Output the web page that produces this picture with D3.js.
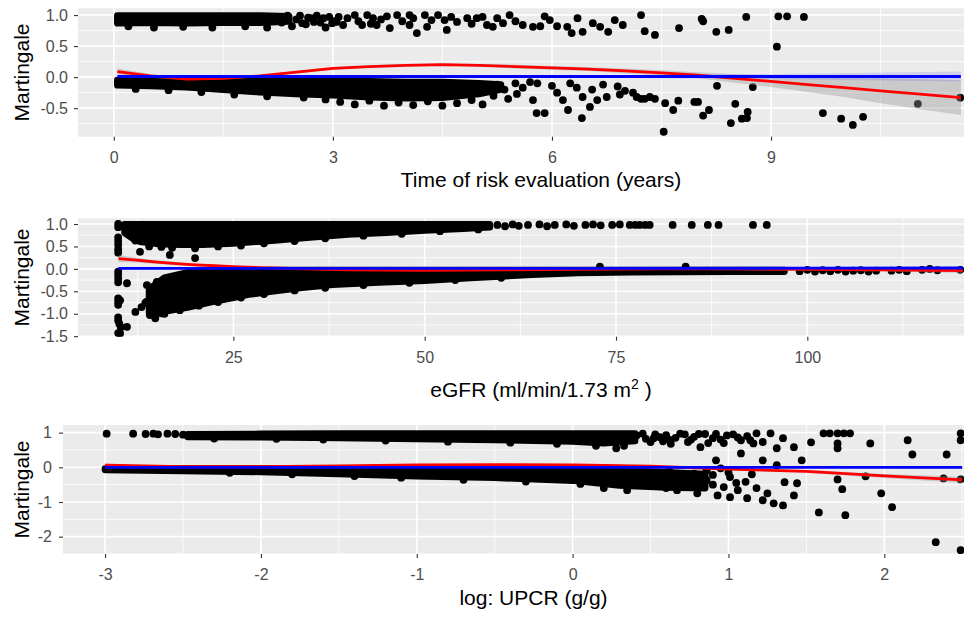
<!DOCTYPE html>
<html>
<head>
<meta charset="utf-8">
<script src="https://cdn.jsdelivr.net/npm/d3@7"></script>
<style>
  body { margin: 0; background: #fff; }
  svg { display: block; font-family: "Liberation Sans", Arial, sans-serif; }
</style>
</head>
<body>
<svg id="chart" width="964" height="617"></svg>
<script>
// ---- Panel 1: time of risk evaluation ----
// dense clouds read as [x, lower, upper] envelopes
const timeEventBand = [[0.05,0.87,0.99],[0.5,0.88,0.99],[1.0,0.87,0.99],[1.5,0.88,0.99],[2.0,0.88,0.99],[2.4,0.9,0.98]];
const timeCensBand = [[0.05,-0.13,-0.05],[0.5,-0.14,-0.05],[1.0,-0.16,-0.05],[1.5,-0.2,-0.05],[2.0,-0.24,-0.05],[2.5,-0.27,-0.06],[3.0,-0.29,-0.06],[3.5,-0.32,-0.07],[4.0,-0.34,-0.08],[4.5,-0.33,-0.08],[5.0,-0.27,-0.1],[5.3,-0.2,-0.12]];
const timeEvents = [[0.2,0.82],[0.55,0.8],[0.95,0.81],[1.35,0.8],[1.8,0.82],[2.1,0.8],
  [2.25,0.96],[2.3,0.88],[2.38,0.99],[2.44,0.82],[2.5,0.93],[2.55,0.99],[2.58,0.87],[2.63,0.85],[2.66,0.96],[2.7,0.95],[2.74,0.89],[2.78,0.99],[2.83,0.88],[2.87,0.95],[2.9,0.8],[2.95,0.97],[2.99,0.87],[3.02,0.9],[3.08,0.97],
  [3.05,0.89],[3.14,0.84],[3.3,1.0],[3.4,0.84],[3.47,1.0],[3.55,0.95],[3.6,0.84],[3.74,0.98],[3.78,0.79],[3.88,1.0],[4.05,1.0],[4.05,0.84],[4.15,0.71],[4.26,1.0],[4.29,0.81],[4.44,1.0],[4.53,0.92],[4.56,0.76],[4.7,0.89],[4.84,0.95],[4.97,0.95],[5.05,0.97],[5.11,0.84],[5.19,0.81],[5.33,0.87],[5.42,1.0],[5.6,0.84],[5.74,0.81],[5.84,0.82],[5.97,0.92],[6.07,0.82],[6.21,0.81],[6.27,0.71],[6.42,0.73],[6.56,0.87],[6.66,0.81],[6.77,0.73],[6.86,0.92],[6.97,0.84],
  [3.2,0.95],[3.35,0.9],[3.52,0.86],[3.66,0.93],[3.95,0.9],[4.1,0.95],[4.35,0.92],[4.62,0.97],[4.9,0.86],[5.25,0.95],[5.5,0.9],[5.9,0.98],[6.35,0.95],
  [7.22,1.0],[7.27,0.74],[7.41,0.68],[7.74,0.79],[8.05,0.94],[8.07,0.9],[8.25,0.73],[8.42,0.76],[8.66,0.97],[9.1,0.98],[9.22,0.98],[9.45,0.97],[9.08,0.49]];
const timeCensored = [[0.3,-0.19],[0.75,-0.21],[1.2,-0.24],[1.65,-0.28],[2.1,-0.31],[2.6,-0.33],[2.9,-0.36],
  [3.1,-0.4],[3.3,-0.44],[3.5,-0.38],[3.7,-0.46],[3.9,-0.41],[4.1,-0.45],[4.3,-0.39],[4.5,-0.46],[4.7,-0.42],[4.9,-0.37],[5.05,-0.44],[5.2,-0.3],[5.25,-0.12],[5.35,-0.2],[5.4,-0.35],[5.5,-0.1],[5.52,-0.27],
  [5.6,-0.17],[5.7,-0.08],[5.74,-0.37],[5.79,-0.58],[5.9,-0.58],[6.07,-0.25],[6.15,-0.37],[6.22,-0.53],[6.34,-0.17],[6.41,-0.66],[6.42,-0.32],[6.52,-0.48],[6.62,-0.37],[6.75,-0.32],[6.93,-0.28],
  [5.8,-0.1],[6.0,-0.14],[6.25,-0.1],[6.55,-0.2],[6.7,-0.12],[6.9,-0.15],[7.0,-0.22],
  [7.11,-0.25],[7.16,-0.32],[7.22,-0.35],[7.27,-0.35],[7.34,-0.32],[7.41,-0.35],[7.53,-0.88],[7.55,-0.42],[7.66,-0.53],[7.73,-0.38],[7.95,-0.4],[8.0,-0.4],[8.07,-0.62],[8.15,-0.53],[8.26,-0.14],[8.45,-0.74],[8.51,-0.43],[8.6,-0.67],[8.67,-0.66],[8.68,-0.56],[8.75,-0.16],
  [9.71,-0.58],[9.96,-0.67],[10.12,-0.77],[10.26,-0.64],[11.01,-0.43],[11.59,-0.33]];
// smooth fits: [x, fit, half width of band]
const timeLoess = [[0.05,0.09,0.05],[0.5,0.02,0.03],[1.0,-0.03,0.02],[1.5,-0.02,0.02],[2.0,0.02,0.02],[2.5,0.08,0.02],[3.0,0.14,0.02],[3.5,0.17,0.02],[4.0,0.19,0.02],[4.5,0.2,0.02],[5.0,0.19,0.02],[5.5,0.17,0.03],[6.0,0.15,0.03],[6.5,0.13,0.03],[7.0,0.1,0.04],[7.5,0.07,0.04],[8.0,0.03,0.05],[8.5,-0.02,0.07],[9.0,-0.07,0.09],[9.5,-0.12,0.12],[10.0,-0.17,0.15],[10.5,-0.22,0.2],[11.0,-0.27,0.24],[11.6,-0.33,0.28]];
const timeLinear = [[0.05,0.01,0.02],[3,0.01,0.012],[6,0.01,0.015],[9,0.01,0.04],[11.6,0.01,0.08]];

// ---- Panel 2: eGFR ----
const egfrEventBand = [[10.8,0.8,0.99],[12,0.66,0.99],[13,0.6,0.99],[15,0.56,0.99],[18,0.54,0.99],[21,0.54,0.99],[25,0.57,0.99],[30,0.63,0.99],[35,0.7,0.99],[40,0.77,0.99],[45,0.81,0.99],[50,0.86,0.99],[55,0.9,0.99],[58.5,0.93,0.99]];
const egfrCensBand = [[14,-1.0,-0.45],[16,-0.95,-0.2],[19,-0.86,-0.08],[22,-0.74,-0.05],[25,-0.64,-0.04],[27,-0.57,-0.04],[30,-0.5,-0.03],[34,-0.42,-0.03],[38,-0.35,-0.03],[44,-0.3,-0.03],[50,-0.26,-0.03],[56,-0.2,-0.03],[64,-0.13,-0.03],[70,-0.09,-0.03],[77,-0.07,-0.03],[90,-0.06,-0.03],[97,-0.06,-0.03]];
const egfrEvents = [[9.95,1.0],[9.95,0.93],[9.95,0.7],[9.95,0.62],[9.95,0.54],[9.95,0.44],[9.95,0.36],
  [10.6,0.95],[11.2,0.9],[11.7,0.82],[12.3,0.72],[12.2,0.63],[12.8,0.38],[16.7,0.31],[20,0.24],[15.6,0.49],
  [14,0.5],[17,0.47],[20,0.46],[23,0.5],[26,0.52],[29,0.57],[33,0.62],[37,0.68],[42,0.74],[47,0.78],[52,0.84],[57,0.88],
  [59.5,0.98],[60.5,0.95],[61.5,0.99],[62.3,0.96],[63.5,0.98],[65,0.99],[66,0.95],[67,0.98],[68.5,0.99],[69.5,0.96],[71,0.98],[72,0.99],[73,0.97],[74.5,0.98],[75.5,0.99],[76.8,0.98],[77.5,0.98],[78.1,0.98],[78.8,0.98],[79.4,0.98],[82.4,0.98],[84.9,0.98],[87.0,0.98],[88.4,0.98],[92.9,0.98],[94.7,0.98]];
const egfrCensored = [[9.95,-0.06],[9.95,-0.13],[9.95,-0.22],[9.95,-0.3],[9.95,-0.66],[9.95,-0.73],[9.95,-0.8],[9.95,-1.08],[9.95,-1.15],[10.1,-1.22],[10.3,-1.3],[9.95,-1.43],
  [10.2,-0.7],[11.1,-1.29],[10.2,-1.44],[12.2,-0.96],[13.0,-0.85],[13.7,-0.73],[14.1,-1.03],[14.8,-1.1],[15.6,-0.99],
  [13.7,-0.36],[11.1,-0.32],[13.5,-0.76],[15,-0.29],[16.7,-0.43],[17.6,-0.73],[18.9,-0.29],
  [16,-1.0],[18,-0.92],[20.5,-0.82],[23,-0.74],[26,-0.64],[29,-0.56],[33,-0.48],[37,-0.42],[42,-0.36],[48,-0.31],[54,-0.25],[60,-0.2],
  [72.9,0.05],[84.1,0.05],
  [99,-0.05],[100,-0.02],[101,-0.06],[102,-0.03],[103,-0.05],[104,-0.02],[105,-0.06],[106,-0.04],[107,-0.03],[108,-0.06],[109,-0.04],
  [111,-0.04],[112,-0.02],[113,-0.05],[115,-0.02],[116,0.0],[117,-0.03],[120,-0.02]];
const egfrLoess = [[10,0.23,0.08],[12,0.2,0.06],[15,0.15,0.04],[18,0.11,0.03],[20,0.09,0.03],[22.5,0.07,0.025],[25,0.05,0.02],[30,0.02,0.02],[40,-0.02,0.02],[50,-0.03,0.02],[60,-0.02,0.02],[70,-0.01,0.02],[80,0,0.025],[90,0,0.03],[100,-0.01,0.03],[110,-0.02,0.04],[120.3,-0.04,0.05]];
const egfrLinear = [[10,0.01,0.03],[40,0.01,0.012],[70,0.01,0.012],[100,0.015,0.02],[120.3,0.02,0.03]];

// ---- Panel 3: log UPCR ----
const upcrEventBand = [[-2.47,0.88,0.95],[-2,0.87,0.96],[-1.5,0.85,0.97],[-1,0.82,0.97],[-0.5,0.79,0.97],[0,0.75,0.97],[0.2,0.7,0.97],[0.4,0.76,0.97]];
const upcrCensBand = [[-3,-0.07,-0.04],[-2.5,-0.1,-0.04],[-2,-0.13,-0.04],[-1.5,-0.19,-0.04],[-1,-0.25,-0.05],[-0.5,-0.3,-0.06],[0,-0.38,-0.06],[0.3,-0.52,-0.08],[0.6,-0.58,-0.15],[0.85,-0.6,-0.2]];
const upcrEvents = [[-2.99,0.97],[-2.82,0.97],[-2.74,0.96],[-2.69,0.97],[-2.66,0.95],[-2.6,0.97],[-2.55,0.96],[-2.5,0.94],
  [-2.3,0.83],[-1.9,0.82],[-1.6,0.8],[-1.2,0.77],[-0.8,0.74],[-0.4,0.71],[-0.1,0.68],[0.15,0.62],[0.28,0.55],[0.33,0.62],
  [0.41,0.92],[0.5,0.73],[0.56,0.87],[0.63,0.68],[0.69,0.97],[0.74,0.73],[0.82,0.58],[0.9,0.84],[0.99,0.92],[1.08,0.78],[1.16,0.69],[1.22,0.73],
  [0.45,0.97],[0.53,0.95],[0.6,0.93],[0.66,0.85],[0.72,0.95],[0.78,0.88],[0.85,0.96],[0.95,0.8],[1.03,0.95],[1.12,0.9],[1.18,0.98],[0.47,0.82],[0.58,0.75],[0.87,0.7],
  [0.52,0.84],[0.62,0.8],[0.76,0.8],[0.81,0.96],[0.92,0.96],[0.97,0.7],[1.06,0.86],[1.14,0.78],
  [1.27,0.98],[1.35,0.84],[1.31,0.55],[1.42,0.58],[1.53,0.72],[1.61,0.98],[1.65,0.98],[1.7,0.98],[1.74,0.98],[1.78,0.98],[1.7,0.69],[1.7,0.55],[1.91,0.69],[2.15,0.78],[2.18,0.37],[2.4,0.37],[2.49,0.98],[2.49,0.78],
  [1.08,0.4],[1.22,0.2],[0.92,0.2],[1.47,0.2],[1.31,0.06]];
const upcrCensored = [[-2.2,-0.16],[-1.8,-0.2],[-1.4,-0.25],[-1.1,-0.3],[-0.7,-0.36],[-0.3,-0.41],[0.05,-0.48],[0.2,-0.6],[0.35,-0.66],
  [0.43,-0.28],[0.5,-0.52],[0.58,-0.42],[0.67,-0.66],[0.73,-0.46],[0.8,-0.75],[0.86,-0.37],[0.97,-0.57],[1.01,-0.28],[1.06,-0.66],[1.11,-0.42],[1.18,-0.6],[1.25,-0.75],
  [0.45,-0.15],[0.55,-0.2],[0.62,-0.12],[0.7,-0.25],[0.78,-0.18],[0.9,-0.22],[1.0,-0.15],[1.05,-0.45],[1.15,-0.2],[0.65,-0.35],[0.75,-0.55],[0.6,-0.6],[0.9,-0.5],
  [0.86,-0.09],[0.95,-0.03],[0.93,-0.81],[1.01,-0.86],[1.12,-0.89],[1.22,-0.95],[1.29,-1.04],[1.35,-1.1],[1.36,-0.43],[1.42,-0.81],[1.44,-0.46],
  [1.7,-0.35],[1.73,-0.63],[1.88,-0.26],[1.98,-0.75],[2.05,-1.15],[1.58,-1.3],[1.75,-1.38],[2.33,-2.16],[2.49,-2.39],[2.38,-0.32],[2.49,-0.35]];
const upcrLoess = [[-3,0.06,0.05],[-2.5,0.02,0.02],[-2,0.02,0.015],[-1.5,0.04,0.015],[-1,0.07,0.015],[-0.5,0.08,0.015],[0,0.07,0.015],[0.5,0.03,0.02],[1,-0.05,0.025],[1.5,-0.12,0.04],[2,-0.25,0.06],[2.5,-0.36,0.09]];
const upcrLinear = [[-3,0,0.02],[-1,0,0.012],[0,0,0.012],[1,0,0.02],[2.5,0,0.04]];

// ticks
const timeTicks = [0, 3, 6, 9], timeMinor = [1.5, 4.5, 7.5, 10.5];
const egfrTicks = [25, 50, 75, 100], egfrMinor = [12.5, 37.5, 62.5, 87.5, 112.5];
const upcrTicks = [-3, -2, -1, 0, 1, 2], upcrMinor = [-2.5, -1.5, -0.5, 0.5, 1.5, 2.5];
const m1Ticks = [-0.5, 0, 0.5, 1], m1Minor = [-0.75, -0.25, 0.25, 0.75];
const m2Ticks = [-1.5, -1, -0.5, 0, 0.5, 1], m2Minor = [-1.25, -0.75, -0.25, 0.25, 0.75];
const m3Ticks = [-2, -1, 0, 1], m3Minor = [-2.5, -1.5, -0.5, 0.5];

const svg = d3.select("#chart");
const R = 3.9;
const fmt1 = d => d3.format(".1f")(d).replace("\u2212", "-");
const fmt0 = d => d3.format("d")(d).replace("\u2212", "-");

function drawPanel(p) {
  const x = d3.scaleLinear().domain(p.xDomain).range([p.left, p.right]);
  const y = d3.scaleLinear().domain(p.yDomain).range([p.bottom, p.top]);
  const g = svg.append("g");

  svg.append("clipPath").attr("id", "clip" + p.id).append("rect")
    .attr("x", p.left).attr("y", p.top)
    .attr("width", p.right - p.left).attr("height", p.bottom - p.top);

  g.append("rect").attr("x", p.left).attr("y", p.top)
    .attr("width", p.right - p.left).attr("height", p.bottom - p.top)
    .attr("fill", "#EBEBEB");

  const grid = g.append("g").attr("stroke", "#fff");
  grid.selectAll("line.xm").data(p.xMinor).join("line").attr("class", "xm")
    .attr("x1", d => x(d)).attr("x2", d => x(d)).attr("y1", p.top).attr("y2", p.bottom).attr("stroke-width", 0.8);
  grid.selectAll("line.ym").data(p.yMinor).join("line").attr("class", "ym")
    .attr("x1", p.left).attr("x2", p.right).attr("y1", d => y(d)).attr("y2", d => y(d)).attr("stroke-width", 0.8);
  grid.selectAll("line.xM").data(p.xTicks).join("line").attr("class", "xM")
    .attr("x1", d => x(d)).attr("x2", d => x(d)).attr("y1", p.top).attr("y2", p.bottom).attr("stroke-width", 1.6);
  grid.selectAll("line.yM").data(p.yTicks).join("line").attr("class", "yM")
    .attr("x1", p.left).attr("x2", p.right).attr("y1", d => y(d)).attr("y2", d => y(d)).attr("stroke-width", 1.6);

  const plot = g.append("g").attr("clip-path", `url(#clip${p.id})`);

  const band = d3.area().x(d => x(d[0])).y0(d => y(d[1])).y1(d => y(d[2]));
  plot.selectAll("path.band").data(p.bands).join("path").attr("class", "band")
    .attr("d", band).attr("fill", "#000").attr("stroke", "#000")
    .attr("stroke-width", 2 * R - 1).attr("stroke-linejoin", "round");

  plot.selectAll("circle").data(p.points).join("circle")
    .attr("cx", d => x(d[0])).attr("cy", d => y(d[1])).attr("r", R).attr("fill", "#000");

  const smooth = (data, col, fill, op) => {
    plot.append("path").datum(data)
      .attr("d", d3.area().x(d => x(d[0])).y0(d => y(d[1] - d[2])).y1(d => y(d[1] + d[2])))
      .attr("fill", fill).attr("opacity", op);
    plot.append("path").datum(data)
      .attr("d", d3.line().x(d => x(d[0])).y(d => y(d[1])))
      .attr("fill", "none").attr("stroke", col).attr("stroke-width", 2.8);
  };
  smooth(p.loess, "#FF0000", "#999999", 0.4);
  smooth(p.linear, "#0000FF", "#0000FF", 0.12);

  const xa = g.append("g").attr("transform", `translate(0,${p.bottom})`)
    .call(d3.axisBottom(x).tickValues(p.xTicks).tickFormat(fmt0).tickSize(4).tickPadding(11));
  const ya = g.append("g").attr("transform", `translate(${p.left},0)`)
    .call(d3.axisLeft(y).tickValues(p.yTicks).tickFormat(p.yFormat).tickSize(4).tickPadding(p.yPad));
  [xa, ya].forEach(a => {
    a.select(".domain").remove();
    a.selectAll(".tick line").attr("stroke", "#333").attr("stroke-width", 1.1);
    a.selectAll(".tick text").attr("fill", "#4D4D4D").attr("font-size", 16)
      .attr("font-family", "'Liberation Sans', Arial, sans-serif");
  });

  svg.append("text").attr("transform", `translate(29,${(p.top + p.bottom) / 2}) rotate(-90)`)
    .attr("text-anchor", "middle").attr("font-size", 21).attr("fill", "#000").text("Martingale");

  const t = svg.append("text").attr("x", (p.left + p.right) / 2).attr("y", p.titleY)
    .attr("text-anchor", "middle").attr("font-size", 21).attr("fill", "#000");
  p.title(t);
}

drawPanel({
  id: 1, left: 78, right: 1004, top: 8.3, bottom: 136.7,
  xDomain: [-0.49, 12.19], yDomain: [-0.96, 1.109],
  xTicks: timeTicks, xMinor: timeMinor, yTicks: m1Ticks, yMinor: m1Minor, yFormat: fmt1, yPad: 6,
  bands: [timeEventBand, timeCensBand], points: timeEvents.concat(timeCensored),
  loess: timeLoess, linear: timeLinear, titleY: 187,
  title: t => t.text("Time of risk evaluation (years)")
});

drawPanel({
  id: 2, left: 78, right: 1004, top: 218.3, bottom: 336.7,
  xDomain: [4.70, 125.7], yDomain: [-1.511, 1.127],
  xTicks: egfrTicks, xMinor: egfrMinor, yTicks: m2Ticks, yMinor: m2Minor, yFormat: fmt1, yPad: 6,
  bands: [egfrEventBand, egfrCensBand], points: egfrEvents.concat(egfrCensored),
  loess: egfrLoess, linear: egfrLinear, titleY: 397,
  title: t => {
    t.append("tspan").text("eGFR (ml/min/1.73 m");
    t.append("tspan").attr("dy", -8).attr("font-size", 14).text("2");
    t.append("tspan").attr("dy", 8).text(" )");
  }
});

drawPanel({
  id: 3, left: 63, right: 1004, top: 425, bottom: 554,
  xDomain: [-3.27, 2.768], yDomain: [-2.5, 1.22],
  xTicks: upcrTicks, xMinor: upcrMinor, yTicks: m3Ticks, yMinor: m3Minor, yFormat: fmt0, yPad: 7,
  bands: [upcrEventBand, upcrCensBand], points: upcrEvents.concat(upcrCensored),
  loess: upcrLoess, linear: upcrLinear, titleY: 605,
  title: t => t.text("log: UPCR (g/g)")
});
</script>
</body>
</html>
